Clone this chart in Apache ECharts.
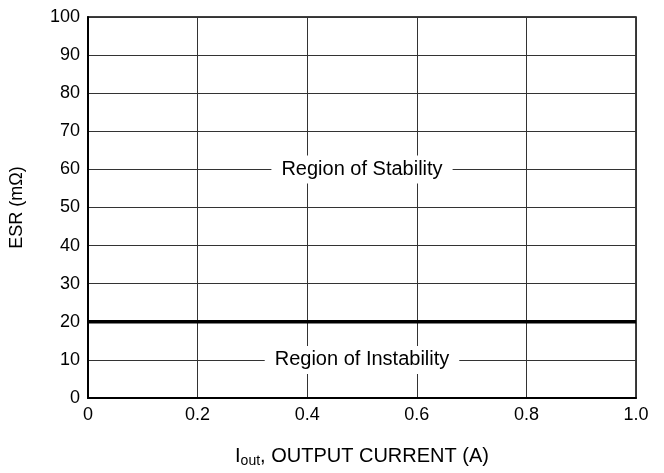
<!DOCTYPE html>
<html>
<head>
<meta charset="utf-8">
<script src="https://cdn.jsdelivr.net/npm/echarts@6/dist/echarts.min.js"></script>
<style>
html,body{margin:0;padding:0;background:#fff;}
#c{width:664px;height:473px;}
</style>
</head>
<body>
<div id="c"></div>
<script>
const xRange = [0, 1.0];
const yRange = [0, 100];
const xTickStep = 0.2;
const yTickStep = 10;
const boundaryLine = [[0, 20], [1.0, 20]];
const regionLabels = [
  { name: 'Region of Stability', value: [0.5, 60] },
  { name: 'Region of Instability', value: [0.5, 10] }
];
const xAxisTitle = '{n|I}{s|out}{n|, OUTPUT CURRENT (A)}';
const yAxisTitle = 'ESR (mΩ)';

const font = 'Liberation Sans, Arial, Helvetica, sans-serif';
const chart = echarts.init(document.getElementById('c'));
chart.setOption({
  animation: false,
  grid: { left: 88, right: 28, top: 17, bottom: 73, show: true, borderColor: '#000', borderWidth: 1.5, backgroundColor: 'transparent' },
  xAxis: {
    type: 'value', min: xRange[0], max: xRange[1], interval: xTickStep,
    axisLine: { show: true, lineStyle: { color: '#000', width: 2 } },
    axisTick: { show: false },
    splitLine: { show: true, lineStyle: { color: '#333', width: 1 } },
    axisLabel: { color: '#000', fontSize: 18, fontFamily: font, margin: 8,
      formatter: v => v === 0 ? '0' : v.toFixed(1) },
    name: xAxisTitle, nameLocation: 'middle', nameGap: 46,
    nameTextStyle: { rich: {
      n: { fontSize: 20, fontFamily: font, color: '#000' },
      s: { fontSize: 14, fontFamily: font, color: '#000', verticalAlign: 'bottom', padding: [10, 0, 0, 0] }
    } }
  },
  yAxis: {
    type: 'value', min: yRange[0], max: yRange[1], interval: yTickStep,
    axisLine: { show: true, lineStyle: { color: '#000', width: 2 } },
    axisTick: { show: false },
    splitLine: { show: true, lineStyle: { color: '#333', width: 1 } },
    axisLabel: { color: '#000', fontSize: 18, fontFamily: font, margin: 8 },
    name: yAxisTitle, nameLocation: 'middle', nameGap: 62, nameRotate: 90,
    nameTextStyle: { fontSize: 18, fontFamily: font, color: '#000' }
  },
  series: [
    {
      type: 'line', data: boundaryLine, symbol: 'none',
      lineStyle: { color: '#000', width: 3.5 }, z: 3
    },
    {
      type: 'scatter', data: regionLabels, symbolSize: 0, z: 5,
      itemStyle: { opacity: 1, color: '#fff' },
      label: {
        show: true, position: 'inside', formatter: p => p.name,
        color: '#000', opacity: 1, fontSize: 20, fontFamily: font, textBorderWidth: 0,
        backgroundColor: '#fff', padding: [4, 10, 4, 10]
      },
      emphasis: { disabled: true }
    }
  ]
});
</script>
</body>
</html>
